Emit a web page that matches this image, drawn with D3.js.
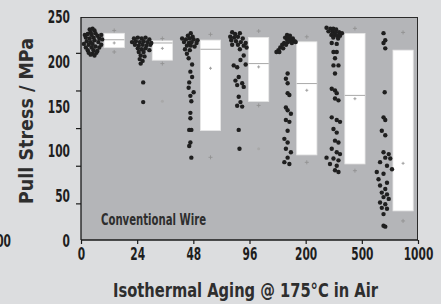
<!DOCTYPE html>
<html><head><meta charset="utf-8">
<script src="https://cdn.jsdelivr.net/npm/d3@7/dist/d3.min.js"></script>
<style>html,body{margin:0;padding:0;background:#dcdddf;}svg{display:block;}</style>
</head><body>
<script>
// ---- data ----
const categories = ["0","24","48","96","200","500","1000"];
const yTickLabels = [0,50,100,150,200,250];
const yTickMarks = [42,84,126,168,210];
// individual pull tests: [jitter (0..1 within strip), stress MPa]
const pts0 = [[0.3,236],[0.45,237],[0.55,235],[0.35,233],[0.6,232],[0.05,230],[0.2,231],[0.4,230],[0.7,229],[0.9,230],[0.1,227],[0.3,226],[0.5,227],[0.8,226],[0.95,225],[0.15,223],[0.35,222],[0.55,224],[0.75,222],[0.0,220],[0.25,219],[0.45,220],[0.9,219],[0.1,216],[0.4,216],[0.6,217],[0.8,216],[0.2,213],[0.5,213],[0.7,212],[0.25,210],[0.45,209],[0.65,210],[0.35,208],[0.55,207]];
const pts24 = [[0.1,226],[0.3,227],[0.5,226],[0.7,227],[0.9,225],[0.0,222],[0.2,223],[0.4,222],[0.6,223],[0.8,222],[1.0,221],[0.15,219],[0.35,218],[0.55,219],[0.75,218],[0.95,219],[0.3,215],[0.5,214],[0.7,215],[0.9,213],[0.35,211],[0.6,211],[0.45,207],[0.65,206],[0.4,203],[0.55,201],[0.45,198],[0.58,177],[0.58,155]];
const pts48 = [[0.55,232],[0.4,229],[0.65,228],[0.1,226],[0.3,225],[0.5,226],[0.7,225],[0.9,224],[0.2,222],[0.45,221],[0.6,222],[0.85,221],[0.35,218],[0.55,218],[0.75,217],[0.25,214],[0.5,213],[0.35,209],[0.44,204],[0.62,197],[0.53,189],[0.62,183],[0.47,177],[0.44,171],[0.7,166],[0.53,162],[0.58,156],[0.53,143],[0.53,137],[0.47,124],[0.58,124],[0.53,110],[0.47,106],[0.58,93]];
const pts96 = [[0.2,233],[0.35,231],[0.6,232],[0.1,228],[0.3,227],[0.5,228],[0.75,226],[0.15,224],[0.4,223],[0.65,222],[0.9,221],[0.2,219],[0.5,219],[0.8,218],[0.95,216],[0.6,214],[0.8,207],[0.63,202],[0.28,196],[0.9,197],[0.46,194],[0.54,183],[0.37,179],[0.72,176],[0.46,174],[0.8,172],[0.54,161],[0.63,155],[0.46,151],[0.72,150],[0.54,124],[0.58,103]];
const pts200 = [[0.55,230],[0.7,229],[0.45,227],[0.65,227],[0.85,226],[0.55,225],[0.75,224],[0.95,223],[0.6,222],[0.8,221],[1.0,222],[0.4,221],[0.3,219],[0.5,219],[0.2,216],[0.35,215],[0.1,213],[0.0,211],[0.15,211],[0.58,187],[0.49,181],[0.58,176],[0.58,165],[0.67,163],[0.49,149],[0.58,146],[0.75,142],[0.49,135],[0.67,133],[0.58,123],[0.41,114],[0.58,110],[0.49,103],[0.75,99],[0.58,93],[0.41,88],[0.67,86]];
const pts500 = [[0.1,238],[0.3,237],[0.45,237],[0.6,236],[0.2,234],[0.4,234],[0.55,233],[0.75,233],[0.9,232],[0.35,230],[0.5,230],[0.65,229],[0.8,229],[0.45,227],[0.7,226],[0.37,221],[0.63,220],[0.46,211],[0.63,211],[0.54,204],[0.46,196],[0.72,196],[0.54,187],[0.37,170],[0.54,168],[0.63,165],[0.54,159],[0.72,157],[0.37,138],[0.63,135],[0.8,133],[0.46,125],[0.63,121],[0.54,112],[0.72,110],[0.37,103],[0.63,99],[0.8,97],[0.1,93],[0.46,92],[0.72,90],[0.28,86],[0.63,84],[0.54,79],[0.72,77]];
const pts1000 = [[0.56,232],[0.65,224],[0.56,221],[0.65,215],[0.62,166],[0.56,138],[0.65,135],[0.47,123],[0.65,118],[0.56,99],[0.83,97],[0.65,93],[0.91,92],[0.38,88],[0.74,84],[1.0,80],[0.21,77],[0.56,75],[0.3,69],[0.74,65],[0.38,62],[0.65,58],[0.47,54],[0.74,52],[0.56,49],[0.83,47],[0.38,43],[0.65,41],[0.47,37],[0.74,36],[0.56,30],[0.56,17],[0.65,16]];
const points = [pts0, pts24, pts48, pts96, pts200, pts500, pts1000];
// box summaries
const q3 =       [231.8, 223.4, 224.2, 227.2, 222.3, 231.7, 213.0];
const median =   [224.6, 221.0, 214.0, 198.0, 175.7, 162.5, null];
const q1 =       [215.8, 201.8, 123.3, 155.8,  96.1,  86.0,  33.6];
const meanVal =  [221.0, 215.0, 192.8, 194.3, 168.2, 158.8,  86.7];
const whiskHi =  [235.0, 226.0, 230.6, 234.3, 227.9, 237.3, 232.8];
const whiskLo =  [211.0, 198.0,  93.4, 151.3,  87.8,  78.5,  22.4];
const outlier =  [null, 156.0, null, 103.0, null, null, null];

// ---- layout ----
const W = 441, H = 304;
const L = 81, R = 418, T = 17, B = 240;
const FONT = "'DejaVu Sans Condensed','Liberation Sans Narrow','Arial Narrow',sans-serif";
const DIGIT_W = 7.4;

const svg = d3.select("body").append("svg").attr("width", W).attr("height", H);
svg.append("rect").attr("width", W).attr("height", H).attr("fill", "#dcdddf");

const y = d3.scaleLinear().domain([0, 250]).range([B + 1, T]);
const xb = d3.scaleBand().domain(categories).range([L, R]);
const xp = d3.scalePoint().domain(categories).range([L, R]);
const bw = xb.bandwidth();

svg.append("rect").attr("x", L).attr("y", T).attr("width", R - L).attr("height", B - T).attr("fill", "#b4b5b8");

// boxes
const grp = svg.append("g");
categories.forEach((c, i) => {
  const bx = xb(c) + bw * 0.48, bwid = bw * 0.42, cx = bx + bwid / 2;
  grp.append("rect").attr("x", bx).attr("y", y(q3[i])).attr("width", bwid)
    .attr("height", y(q1[i]) - y(q3[i])).attr("fill", "#ffffff").attr("stroke", "#e6e6e6").attr("stroke-width", 0.8);
  if (median[i] != null) {
    grp.append("line").attr("x1", bx).attr("x2", bx + bwid).attr("y1", y(median[i])).attr("y2", y(median[i]))
      .attr("stroke", "#a9a9a9").attr("stroke-width", 1);
  }
  grp.append("path").attr("d", `M${cx - 1.5},${y(meanVal[i])}h3M${cx},${y(meanVal[i]) - 1.5}v3`)
    .attr("stroke", "#a0a0a0").attr("stroke-width", 1).attr("fill", "none");
  [whiskHi[i], whiskLo[i]].forEach(v => {
    grp.append("path").attr("d", `M${cx - 2},${y(v)}h4M${cx},${y(v) - 2}v4`)
      .attr("stroke", "#929292").attr("stroke-width", 0.9).attr("fill", "none");
  });
  if (outlier[i] != null) {
    grp.append("circle").attr("cx", cx).attr("cy", y(outlier[i])).attr("r", 1.5).attr("fill", "#a8a8a8");
  }
});

// dots
categories.forEach((c, i) => {
  const x0 = xb(c) + bw * 0.06, sw = bw * 0.4;
  svg.append("g").selectAll("circle").data(points[i]).join("circle")
    .attr("cx", d => x0 + sw * d[0]).attr("cy", d => y(d[1])).attr("r", 2.2)
    .attr("fill", "#1f1f1f");
});

// frame top/right
svg.append("line").attr("x1", L).attr("x2", R).attr("y1", T + 0.5).attr("y2", T + 0.5).attr("stroke", "#2a2a2a").attr("stroke-width", 1);
svg.append("line").attr("x1", R - 0.5).attr("x2", R - 0.5).attr("y1", T).attr("y2", B).attr("stroke", "#2a2a2a").attr("stroke-width", 1);

function styleNum(sel) {
  sel.attr("font-family", FONT).attr("font-weight", "bold").attr("font-size", 17).attr("fill", "#1e1e1e")
    .attr("lengthAdjust", "spacingAndGlyphs")
    .attr("textLength", function() { return this.textContent.length * DIGIT_W; });
}

// left axis: tick marks
const ax1 = svg.append("g").attr("transform", `translate(${L},0)`)
  .call(d3.axisLeft(y).tickValues(yTickMarks).tickSize(5).tickFormat(""));
ax1.select(".domain").attr("stroke", "#1a1a1a").attr("stroke-width", 1.3).attr("d", `M0,${T}V${B}`);
ax1.selectAll(".tick line").attr("stroke", "#1a1a1a").attr("stroke-width", 1.2);
// left axis labels
const ax2 = svg.append("g").attr("transform", `translate(${L},0)`)
  .call(d3.axisLeft(y).tickValues(yTickLabels).tickSize(0).tickPadding(11));
ax2.select(".domain").remove();
ax2.selectAll("text").call(styleNum);

// bottom axis
const ax3 = svg.append("g").attr("transform", `translate(0,${B})`)
  .call(d3.axisBottom(xp).tickSize(4).tickPadding(4));
ax3.select(".domain").attr("stroke", "#1a1a1a").attr("stroke-width", 1.6).attr("d", `M${L},0H${R}`);
ax3.selectAll(".tick line").attr("stroke", "#1a1a1a").attr("stroke-width", 1.2);
ax3.selectAll("text").call(styleNum);

// cut-off label at far left (neighbouring panel)
svg.append("text").attr("x", 11).attr("y", 247).attr("text-anchor", "end").text("1000").call(styleNum);

// annotations
svg.append("text").attr("x", 101).attr("y", 225).attr("textLength", 105).attr("lengthAdjust", "spacingAndGlyphs")
  .attr("font-family", FONT).attr("font-weight", "bold").attr("font-size", 15).attr("fill", "#2e2e2e").text("Conventional Wire");

svg.append("text").attr("x", 245.5).attr("y", 297).attr("text-anchor", "middle").attr("textLength", 265).attr("lengthAdjust", "spacingAndGlyphs")
  .attr("font-family", FONT).attr("font-weight", "bold").attr("font-size", 20).attr("fill", "#2e2e2e").text("Isothermal Aging @ 175°C in Air");

svg.append("text").attr("transform", "translate(33,121) rotate(-90)").attr("text-anchor", "middle")
  .attr("textLength", 166).attr("lengthAdjust", "spacingAndGlyphs")
  .attr("font-family", FONT).attr("font-weight", "bold").attr("font-size", 20).attr("fill", "#2e2e2e").text("Pull Stress / MPa");
</script>
</body></html>
